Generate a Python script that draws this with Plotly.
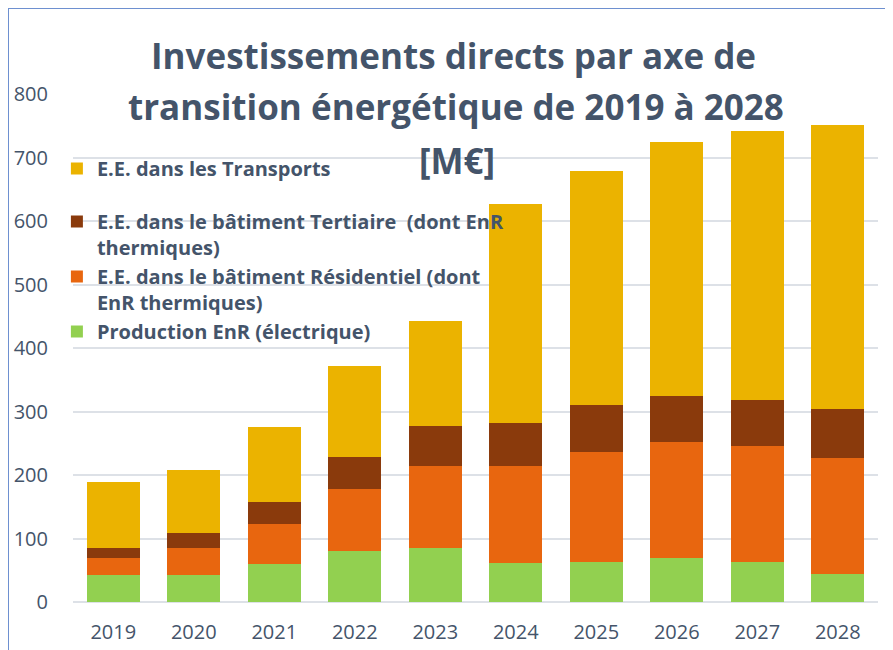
import plotly.graph_objects as go

years = ["2019", "2020", "2021", "2022", "2023", "2024", "2025", "2026", "2027", "2028"]
production_enr = [42, 42, 60, 80, 85, 62, 63, 69, 63, 44]
residentiel = [27, 43, 63, 98, 129, 152, 173, 183, 183, 183]
tertiaire = [16, 24, 34, 50, 63, 68, 74, 72, 72, 77]
transports = [104, 99, 119, 144, 166, 345, 369, 400, 424, 447]

names = [
    "Production EnR (électrique)",
    "E.E. dans le bâtiment Résidentiel (dont<br>EnR thermiques)",
    "E.E. dans le bâtiment Tertiaire  (dont EnR<br>thermiques)",
    "E.E. dans les Transports",
]
groups = ["bat", "bat", "bat", "tr"]
ranks = [4, 3, 2, 1]
series = [production_enr, residentiel, tertiaire, transports]
colors = ["#92D050", "#E8660F", "#8A3A0C", "#EBB300"]

title_lines = [
    "Investissements directs par axe de",
    "transition énergétique de 2019 à 2028",
    "[M€]",
]

FONT = "'Open Sans', sans-serif"
TXT = "#44546A"

# page coordinates -> paper coordinates (plot area spans x 73..878, y 94..602 on the page)
def fx(X):
    return (X - 73) / 805.0

def fy(Y):
    return (602 - Y) / 508.0

fig = go.Figure()
for n, v, c, g, r in zip(names, series, colors, groups, ranks):
    fig.add_trace(go.Bar(x=years, y=v, name=n, legendgroup=g, legendrank=r,
                         marker=dict(color=c, line=dict(width=0))))

annotations = []
for text, xc, yc in zip(title_lines, [453.5, 456, 457], [56, 107, 160]):
    annotations.append(dict(
        text="<b>%s</b>" % text, xref="paper", yref="paper",
        x=fx(xc), y=fy(yc), xanchor="center", yanchor="middle",
        showarrow=False, font=dict(size=35, color=TXT, family=FONT),
    ))

fig.update_layout(
    barmode="stack",
    bargap=0.34,
    width=885, height=642,
    paper_bgcolor="white", plot_bgcolor="white",
    margin=dict(l=65, r=15, t=86, b=48),
    font=dict(family=FONT, color=TXT),
    annotations=annotations,
    showlegend=True,
    legend=dict(
        x=-0.02, xanchor="left", y=fy(149), yanchor="top",
        traceorder="grouped",
        valign="top",
        font=dict(size=20, color=TXT, family=FONT, weight="bold"),
        bgcolor="rgba(0,0,0,0)",
        itemwidth=30,
        tracegroupgap=24,
    ),
    xaxis=dict(
        automargin=False,
        showgrid=False, showline=False, zeroline=False,
        ticks="outside", ticklen=12, tickcolor="rgba(0,0,0,0)",
        tickfont=dict(size=20, color=TXT, family=FONT),
    ),
    yaxis=dict(
        automargin=False,
        range=[0, 800], dtick=100,
        showgrid=True, gridcolor="#DDE1E7", gridwidth=2,
        zeroline=True, zerolinecolor="#DDE1E7", zerolinewidth=2,
        showline=False,
        ticks="outside", ticklen=20, tickcolor="rgba(0,0,0,0)",
        tickfont=dict(size=20, color=TXT, family=FONT),
    ),
    shapes=[
        dict(type="line", xref="paper", yref="paper", x0=fx(5), x1=fx(893), y0=fy(8), y1=fy(8),
             line=dict(color="#6E90D0", width=2)),
        dict(type="line", xref="paper", yref="paper", x0=fx(8), x1=fx(8), y0=fy(660), y1=fy(8),
             line=dict(color="#6E90D0", width=2)),
    ],
)

fig.write_html("out.html")
